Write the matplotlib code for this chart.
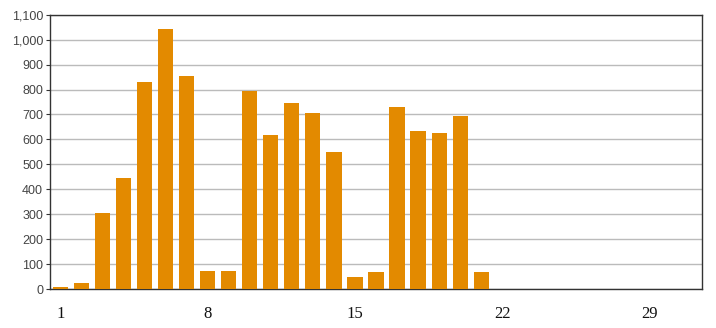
import matplotlib
matplotlib.use("Agg")
import matplotlib.pyplot as plt
from matplotlib.ticker import FuncFormatter

# ---------------- Data ----------------
days = list(range(1, 32))
values = [10, 26, 307, 446, 831, 1042, 854, 75, 75, 795,
          618, 746, 706, 551, 50, 70, 731, 634, 627, 695,
          70, 0, 0, 0, 0, 0, 0, 0, 0, 0, 0]
x_ticks = [1, 8, 15, 22, 29]
y_ticks = list(range(0, 1101, 100))

# ---------------- Plot ----------------
fig = plt.figure(figsize=(7.16, 3.28), dpi=100)
ax = fig.add_axes([50/716, (328-289.3)/328, 652/716, 274.7/328])

ax.bar(days, values, width=0.72, color="#E38A00", zorder=3)

ax.set_xlim(0.5, 31.5)
ax.set_ylim(0, 1100)
ax.set_yticks(y_ticks)
ax.yaxis.set_major_formatter(FuncFormatter(lambda v, p: f"{int(v):,}"))
ax.set_xticks(x_ticks)
ax.set_xticklabels([str(t) for t in x_ticks], family="Liberation Serif", fontsize=12, color="#111111")
ax.tick_params(axis="x", length=0, pad=12)
ax.tick_params(axis="y", length=3, pad=2, labelsize=9, labelcolor="#444444", color="#333333")
for lbl in ax.get_yticklabels():
    lbl.set_family("Liberation Sans")

ax.grid(axis="y", color="#bbbbbb", linewidth=1, zorder=0)
for s in ax.spines.values():
    s.set_color("#333333")
    s.set_linewidth(1)

fig.savefig("out.png", dpi=100)
